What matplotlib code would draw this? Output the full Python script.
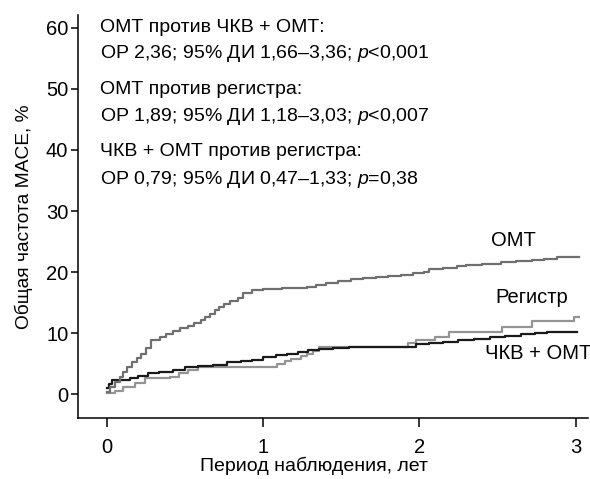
import matplotlib
matplotlib.use("Agg")
import matplotlib.pyplot as plt

plt.rcParams['font.family'] = ['Liberation Sans', 'DejaVu Sans']
plt.rcParams['mathtext.fontset'] = 'custom'
plt.rcParams['mathtext.it'] = 'Liberation Sans:italic'
plt.rcParams['mathtext.rm'] = 'Liberation Sans'

# cumulative MACE curves (years, %)
omt_t = [0, 0.02, 0.05, 0.08, 0.10, 0.13, 0.16, 0.19, 0.22, 0.25, 0.28, 0.34, 0.38,
         0.42, 0.47, 0.52, 0.56, 0.60, 0.63, 0.66, 0.69, 0.72, 0.75, 0.79, 0.84, 0.87,
         0.93, 1.00, 1.12, 1.28, 1.34, 1.40, 1.48, 1.56, 1.64, 1.72, 1.80, 1.88, 1.96,
         2.03, 2.06, 2.15, 2.24, 2.30, 2.40, 2.52, 2.62, 2.72, 2.80, 2.88, 3.02]
omt_y = [0.4, 1.2, 2.0, 2.8, 3.6, 4.4, 5.2, 6.0, 6.6, 7.6, 8.9, 9.3, 9.8,
         10.3, 10.8, 11.2, 11.6, 12.2, 12.7, 13.2, 13.8, 14.3, 14.8, 15.3, 15.8, 16.6,
         17.0, 17.2, 17.4, 17.6, 17.9, 18.2, 18.5, 18.8, 19.0, 19.2, 19.4, 19.6, 19.8,
         20.0, 20.5, 20.7, 21.0, 21.2, 21.4, 21.6, 21.8, 22.0, 22.2, 22.4, 22.4]

pci_t = [0, 0.01, 0.03, 0.15, 0.20, 0.26, 0.33, 0.42, 0.50, 0.58, 0.68, 0.77, 0.86,
         0.93, 1.00, 1.08, 1.15, 1.22, 1.29, 1.36, 1.45, 1.55, 1.62, 1.98, 2.06, 2.15,
         2.25, 2.35, 2.45, 2.55, 2.65, 2.74, 2.82, 3.01]
pci_y = [1.0, 1.6, 2.4, 2.6, 3.0, 3.4, 3.6, 4.0, 4.4, 4.6, 4.8, 5.2, 5.4,
         5.6, 6.1, 6.4, 6.6, 6.9, 7.2, 7.4, 7.6, 7.7, 7.7, 8.2, 8.4, 8.6,
         8.8, 9.1, 9.3, 9.5, 9.8, 10.0, 10.2, 10.2]

reg_t = [0, 0.05, 0.10, 0.18, 0.24, 0.40, 0.46, 0.52, 0.58, 1.09, 1.14, 1.18, 1.24,
         1.28, 1.32, 1.36, 1.93, 1.98, 2.10, 2.19, 2.53, 2.72, 2.99, 3.02]
reg_y = [0.2, 0.6, 1.1, 1.8, 2.6, 2.8, 3.4, 3.9, 4.4, 5.0, 5.4, 5.8, 6.2,
         6.6, 7.0, 7.7, 8.4, 8.9, 9.4, 10.2, 11.0, 12.0, 12.6, 12.6]

stats_lines = [
    "ОМТ против ЧКВ + ОМТ:",
    "ОР 2,36; 95% ДИ 1,66–3,36; $\\it{p}$<0,001",
    "ОМТ против регистра:",
    "ОР 1,89; 95% ДИ 1,18–3,03; $\\it{p}$<0,007",
    "ЧКВ + ОМТ против регистра:",
    "ОР 0,79; 95% ДИ 0,47–1,33; $\\it{p}$=0,38",
]
stats_ypx = [28, 53, 90, 116, 152, 179]

W, H = 590, 479
fig = plt.figure(figsize=(W / 100, H / 100), dpi=100)
ax = fig.add_axes([78 / W, 1 - 418 / H, 510 / W, 403 / H])

ax.step(reg_t, reg_y, where='post', color='#949494', lw=1.6)
ax.step(pci_t, pci_y, where='post', color='#1a1a1a', lw=1.6)
ax.step(omt_t, omt_y, where='post', color='#6f6f6f', lw=1.6)

ax.set_xlim(-0.186, 3.08)
ax.set_ylim(-3.9, 62.1)
ax.set_xticks([0, 1, 2, 3])
ax.set_yticks([0, 10, 20, 30, 40, 50, 60])
for s in ['top', 'right']:
    ax.spines[s].set_visible(False)
for s in ['left', 'bottom']:
    ax.spines[s].set_linewidth(1.1)
ax.tick_params(axis='x', length=6.3, width=1.1, pad=8, labelsize=14.5)
ax.tick_params(axis='y', length=5, width=1.1, pad=2, labelsize=14.5)

ax.set_xlabel("Период наблюдения, лет", fontsize=14, va='center')
ax.xaxis.set_label_coords(0.463, -0.119)
ax.set_ylabel("Общая частота MACE, %", fontsize=13.8, va='center')
ax.yaxis.set_label_coords(-0.106, 0.5)

ax.text(2.60, 25.1, "ОМТ", fontsize=14.5, ha='center', va='center')
ax.text(2.72, 15.9, "Регистр", fontsize=14.5, ha='center', va='center')
ax.text(2.76, 6.7, "ЧКВ + ОМТ", fontsize=14.5, ha='center', va='center')

for line, ypx in zip(stats_lines, stats_ypx):
    fig.text(100 / W, 1 - ypx / H, line, fontsize=14, ha='left', va='center')

fig.savefig("out.png", dpi=100)
